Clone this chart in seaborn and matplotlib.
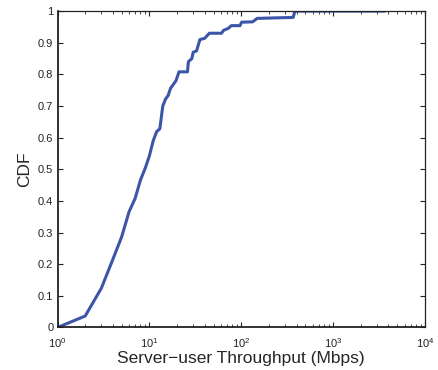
import numpy as np
import pandas as pd
import matplotlib
matplotlib.use("Agg")
import matplotlib.pyplot as plt
import seaborn as sns
from matplotlib.ticker import LogLocator, FixedLocator, FixedFormatter

# Empirical CDF of server-to-user throughput (Mbps)
throughput = [1, 2, 3, 4, 5, 6, 7, 8, 9, 10, 11, 12, 13, 14, 15, 16, 17,
              19.5, 21, 26, 26.6, 29, 30, 32.6, 35.5, 40, 45, 61, 64, 72,
              78, 97, 101, 133, 149, 368, 384, 3660]
cdf = [0.0, 0.036, 0.124, 0.215, 0.287, 0.365, 0.408, 0.466, 0.503, 0.542,
       0.59, 0.619, 0.628, 0.70, 0.722, 0.733, 0.756, 0.78, 0.808, 0.808,
       0.84, 0.85, 0.87, 0.874, 0.91, 0.914, 0.93, 0.93, 0.939, 0.945,
       0.954, 0.954, 0.965, 0.966, 0.977, 0.98, 1.0, 1.0]

y_ticks = [0, 0.1, 0.2, 0.3, 0.4, 0.5, 0.6, 0.7, 0.8, 0.9, 1]
y_tick_labels = ["0", "0.1", "0.2", "0.3", "0.4", "0.5", "0.6", "0.7", "0.8", "0.9", "1"]

sns.set_style("ticks")
plt.rcParams["font.family"] = ["Liberation Sans", "DejaVu Sans"]
plt.rcParams["mathtext.fontset"] = "custom"
plt.rcParams["mathtext.rm"] = "Liberation Sans"
plt.rcParams["mathtext.it"] = "Liberation Sans"

df = pd.DataFrame({"throughput": throughput, "cdf": cdf})

fig = plt.figure(figsize=(4.39, 3.70), dpi=100)
ax = fig.add_axes([0.131, 0.115, 0.837, 0.855])

sns.lineplot(data=df, x="throughput", y="cdf", ax=ax, color="#3b55a8",
             linewidth=2.2, sort=False, estimator=None)

ax.set_xscale("log")
ax.set_xlim(1, 1e4)
ax.set_ylim(0, 1)
ax.xaxis.set_major_locator(LogLocator(base=10, numticks=10))
ax.xaxis.set_minor_locator(LogLocator(base=10, subs=np.arange(2, 10), numticks=20))
ax.yaxis.set_major_locator(FixedLocator(y_ticks))
ax.yaxis.set_major_formatter(FixedFormatter(y_tick_labels))

for side in ["top", "right", "bottom", "left"]:
    ax.spines[side].set_visible(True)
    ax.spines[side].set_color("#222222")
ax.spines["bottom"].set_linewidth(1.3)
ax.spines["left"].set_linewidth(1.3)
ax.spines["top"].set_linewidth(0.9)
ax.spines["right"].set_linewidth(0.9)

ax.tick_params(axis="both", which="major", direction="in", length=3.5,
               width=0.8, top=True, right=True, labelsize=8, colors="#222222")
ax.tick_params(axis="y", which="major", pad=3)
ax.tick_params(axis="x", which="major", pad=6)
ax.tick_params(axis="x", which="minor", direction="in", length=2,
               width=0.6, top=True, bottom=True)

ax.set_xlabel("Server\u2212user Throughput (Mbps)", fontsize=12.5, labelpad=1)
ax.set_ylabel("CDF", fontsize=12.5, labelpad=4)

fig.savefig("out.png", dpi=100)
